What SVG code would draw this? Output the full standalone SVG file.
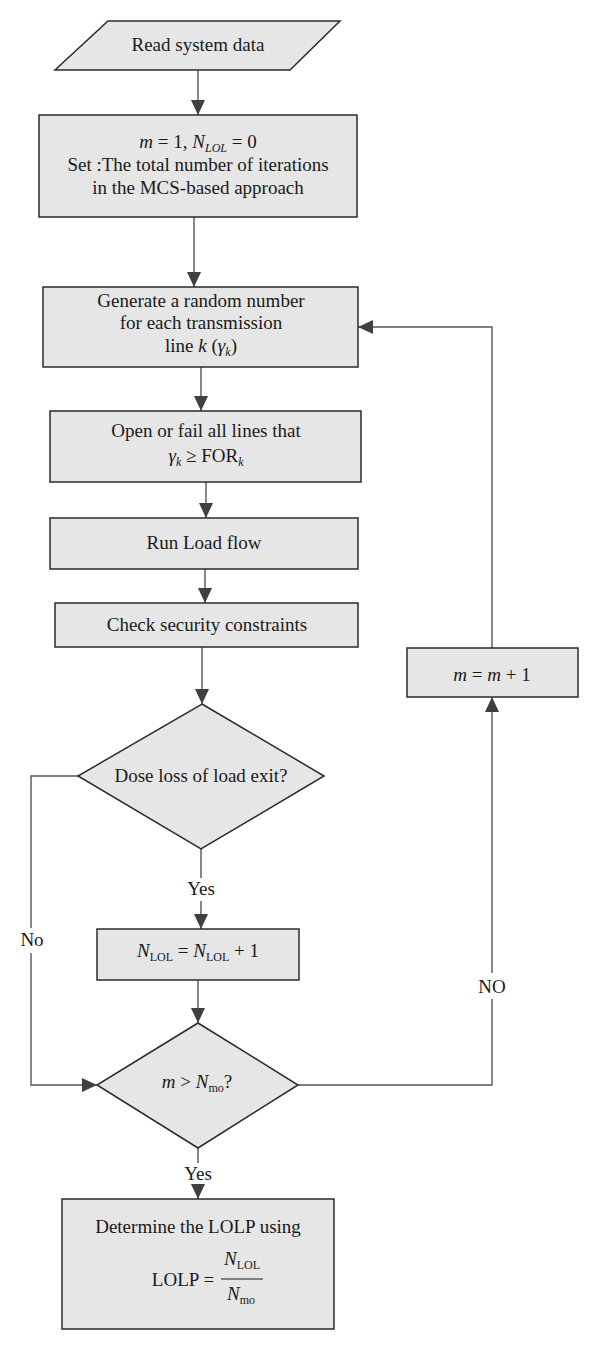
<svg xmlns="http://www.w3.org/2000/svg" width="600" height="1351" viewBox="0 0 600 1351">
<style>
.n{fill:#e6e6e6;stroke:#2b2b2b;stroke-width:1.5}
.t{font-family:"Liberation Serif","Times New Roman",serif;font-size:19px;fill:#1a1a1a;text-anchor:middle}
.l{font-family:"Liberation Serif","Times New Roman",serif;font-size:19px;fill:#1a1a1a;text-anchor:middle}
.i{font-style:italic}
.s{font-size:12px}
.c{fill:none;stroke:#555;stroke-width:1.4}
</style>
<defs>
<marker id="ah" markerUnits="userSpaceOnUse" markerWidth="16" markerHeight="14" refX="15" refY="7" orient="auto">
<path d="M0,0 L15,7 L0,14 z" fill="#404040"/>
</marker>
</defs>
<rect width="600" height="1351" fill="#fff"/>

<g id="connectors">
<line class="c" x1="198" y1="70" x2="198" y2="115" marker-end="url(#ah)"/>
<line class="c" x1="194" y1="217" x2="194" y2="287" marker-end="url(#ah)"/>
<line class="c" x1="201" y1="367" x2="201" y2="411" marker-end="url(#ah)"/>
<line class="c" x1="206" y1="482" x2="206" y2="518" marker-end="url(#ah)"/>
<line class="c" x1="205" y1="569" x2="205" y2="603" marker-end="url(#ah)"/>
<line class="c" x1="202" y1="647" x2="202" y2="704" marker-end="url(#ah)"/>
<line class="c" x1="201" y1="849" x2="201" y2="878"/>
<line class="c" x1="201" y1="901" x2="201" y2="929" marker-end="url(#ah)"/>
<line class="c" x1="198" y1="980" x2="198" y2="1023" marker-end="url(#ah)"/>
<polyline class="c" points="78,776 31,776 31,928"/>
<polyline class="c" points="31,953 31,1085 97,1085" marker-end="url(#ah)"/>
<polyline class="c" points="298,1085 492,1085 492,999"/>
<line class="c" x1="492" y1="973" x2="492" y2="697" marker-end="url(#ah)"/>
<polyline class="c" points="492,648 492,327 358,327" marker-end="url(#ah)"/>
<line class="c" x1="198" y1="1148" x2="198" y2="1163"/>
<line class="c" x1="198" y1="1185" x2="198" y2="1199" marker-end="url(#ah)"/>
<text class="l" x="201" y="895">Yes</text>
<text class="l" x="32" y="946">No</text>
<text class="l" x="492" y="993">NO</text>
<text class="l" x="198" y="1180">Yes</text>
</g>

<g id="read">
<polygon class="n" points="108,21 340,21 290,70 55,70"/>
<text class="t" x="198" y="51">Read system data</text>
</g>

<g id="init">
<rect class="n" x="39" y="115" width="318" height="102"/>
<text class="t" x="198" y="148"><tspan class="i">m</tspan> = 1, <tspan class="i">N</tspan><tspan class="i s" dy="4">LOL</tspan><tspan dy="-4"> = 0</tspan></text>
<text class="t" x="198" y="171">Set :The total number of iterations</text>
<text class="t" x="198" y="194">in the MCS-based approach</text>
</g>

<g id="generate">
<rect class="n" x="43" y="287" width="315" height="80"/>
<text class="t" x="201" y="307">Generate a random number</text>
<text class="t" x="201" y="329">for each transmission</text>
<text class="t" x="201" y="352">line <tspan class="i">k</tspan> (<tspan class="i">γ</tspan><tspan class="i s" dy="4">k</tspan><tspan dy="-4">)</tspan></text>
</g>

<g id="open">
<rect class="n" x="50" y="411" width="311" height="71"/>
<text class="t" x="206" y="437">Open or fail all lines that</text>
<text class="t" x="206" y="462"><tspan class="i">γ</tspan><tspan class="i s" dy="4">k</tspan><tspan dy="-4"> ≥ FOR</tspan><tspan class="i s" dy="4">k</tspan></text>
</g>

<g id="loadflow">
<rect class="n" x="50" y="518" width="308" height="51"/>
<text class="t" x="204" y="549">Run Load flow</text>
</g>

<g id="check">
<rect class="n" x="55" y="603" width="303" height="44"/>
<text class="t" x="207" y="631">Check security constraints</text>
</g>

<g id="lossdecision">
<polygon class="n" points="202,704 324,776 201,849 78,776"/>
<text class="t" x="201" y="782">Dose loss of load exit?</text>
</g>

<g id="nlol">
<rect class="n" x="97" y="929" width="202" height="51"/>
<text class="t" x="198" y="957"><tspan class="i">N</tspan><tspan class="s" dy="4">LOL</tspan><tspan dy="-4"> = </tspan><tspan class="i">N</tspan><tspan class="s" dy="4">LOL</tspan><tspan dy="-4"> + 1</tspan></text>
</g>

<g id="mdecision">
<polygon class="n" points="198,1023 298,1085 198,1148 97,1085"/>
<text class="t" x="197" y="1088"><tspan class="i">m</tspan> &gt; <tspan class="i">N</tspan><tspan class="s" dy="4">mo</tspan><tspan dy="-4">?</tspan></text>
</g>

<g id="increment">
<rect class="n" x="407" y="648" width="171" height="49"/>
<text class="t" x="492" y="681"><tspan class="i">m</tspan> = <tspan class="i">m</tspan> + 1</text>
</g>

<g id="lolp">
<rect class="n" x="62" y="1199" width="272" height="130"/>
<text class="t" x="198" y="1233">Determine the LOLP using</text>
<text class="t" x="183" y="1286">LOLP =</text>
<line x1="221" y1="1279" x2="263" y2="1279" stroke="#1a1a1a" stroke-width="1.2"/>
<text class="t" x="242" y="1265"><tspan class="i">N</tspan><tspan class="s" dy="4">LOL</tspan></text>
<text class="t" x="241" y="1300"><tspan class="i">N</tspan><tspan class="s" dy="4">mo</tspan></text>
</g>
</svg>
